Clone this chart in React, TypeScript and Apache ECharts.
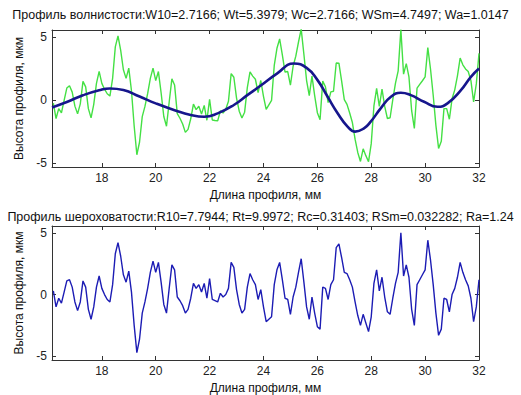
import React, { useEffect, useRef } from "react";
import * as echarts from "echarts";

const TITLE_W = "Профиль волнистости:W10=2.7166; Wt=5.3979; Wc=2.7166; WSm=4.7497; Wa=1.0147";
const TITLE_R = "Профиль шероховатости:R10=7.7944; Rt=9.9972; Rc=0.31403; RSm=0.032282; Ra=1.24";
const X_NAME = "Длина профиля, мм";
const Y_NAME = "Высота профиля, мкм";

const xTicks = [18, 20, 22, 24, 26, 28, 30, 32];
const yTicks = [-5, 0, 5];

// sampled profile: starts at 16.2 mm, step 0.1 mm
const profileStart = 16.2;
const profileStep = 0.1;

const rawProfile = [
  -0.24, -1.46, -0.68, -1.01, -0.03, 0.95, 1.14, 0.63, -0.48, -1.09,
  -0.3, 1.48, 1.05, -0.68, -1.41, -0.34, 1.32, 2.28, 1.32, 0.86,
  0.5, 0.32, 1.72, 4.21, 5.08, 3.94, 2.4, 1.72, 2.53, 0.74,
  -2.05, -4.33, -3.32, -1.31, -0.5, 0.51, 1.72, 2.53, 1.54, 2.26,
  0.58, -1.3, -2.07, -0.15, 1.68, 1.2, -1.07, -1.44, -1.9, -2.56,
  -2.32, -1.48, -0.32, -0.76, -0.49, -1.11, -0.42, -1.6, 0.05, -1.58,
  -1.62, -1.65, -0.85, -1.03, -0.72, -0.1, 2.1, 1.81, 0.16, -0.88,
  -1.42, -0.96, 0.99, 2.24, 1.9, 1.65, 0.6, 1.55, 0.3, -0.74,
  -0.38, -0.02, 2.74, 4.1, 4.84, 3.58, 2.22, 2.26, 1.18, 2.68,
  3.48, 4.6, 5.62, 3.63, 1.55, 0.35, 1.9, 0.35, -1.0, -1.55,
  1.5, 1.05, -0.2, 0.65, 0.7, 2.94, 2.92, 1.52, 0.04, -0.34,
  -1.02, -1.78, -3.1, -4.15, -4.86, -3.86, -4.4, -4.88, -3.45, -0.46,
  0.92, -0.5, 0.86, -0.5, -1.46, -1.4, 0.03, 1.34, 2.32, 5.58,
  2.05, 2.89, 1.83, -0.84, -2.25, 0.94, 1.24, 1.53, 1.84, 4.15,
  2.46, 0.38, -2.0, -3.83, -3.27, -0.68, -0.68, -1.52, 0.1, 0.81,
  1.92, 3.33, 2.79, 2.47, 2.26, 1.54, -0.14, 1.28, 3.7
];

const roughness = [
  0.3, -1.0, -0.3, -0.7, 0.2, 1.1, 1.2, 0.6, -0.6, -1.3,
  -0.6, 1.1, 0.6, -1.2, -2.0, -1.0, 0.6, 1.5, 0.5, 0.0,
  -0.4, -0.6, 0.8, 3.3, 4.2, 3.1, 1.6, 1.0, 1.9, 0.2,
  -2.5, -4.7, -3.6, -1.5, -0.6, 0.5, 1.8, 2.7, 1.8, 2.6,
  1.0, -0.8, -1.5, 0.5, 2.4, 2.0, -0.2, -0.5, -0.9, -1.5,
  -1.2, -0.3, 0.9, 0.5, 0.8, 0.2, 0.9, -0.3, 1.3, -0.4,
  -0.5, -0.6, 0.1, -0.2, 0.0, 0.5, 2.6, 2.2, 0.4, -0.8,
  -1.5, -1.2, 0.6, 1.7, 1.2, 0.8, -0.4, 0.4, -1.0, -2.2,
  -2.0, -1.8, 0.8, 2.0, 2.6, 1.2, -0.3, -0.4, -1.6, -0.2,
  0.6, 1.8, 2.9, 1.0, -1.0, -2.0, -0.2, -1.5, -2.6, -2.8,
  0.6, 0.5, -0.4, 0.8, 1.2, 3.8, 4.1, 3.0, 1.8, 1.7,
  1.2, 0.6, -0.6, -1.7, -2.5, -1.6, -2.3, -3.0, -1.8, 0.9,
  2.0, 0.3, 1.4, -0.2, -1.4, -1.6, -0.3, 0.9, 1.8, 5.0,
  1.5, 2.4, 1.4, -1.2, -2.5, 0.8, 1.2, 1.6, 2.0, 4.4,
  2.8, 0.8, -1.5, -3.3, -2.8, -0.3, -0.4, -1.4, 0.0, 0.5,
  1.4, 2.6, 1.8, 1.2, 0.7, -0.3, -2.2, -1.0, 1.2
];

// waviness (smooth mean line) knots
const wavX = [
  16.15, 16.7, 17.3, 17.9, 18.3, 18.8, 19.4, 20.0, 20.7, 21.3, 21.8, 22.3,
  22.9, 23.4, 23.9, 24.5, 25.13, 25.6, 26.0, 26.37, 26.74, 27.12, 27.4,
  27.73, 27.98, 28.35, 28.73, 29.1, 29.47, 29.96, 30.46, 30.83, 31.33, 31.7, 32.0
];
const wavY = [
  -0.58, -0.15, 0.38, 0.78, 0.92, 0.8, 0.28, -0.26, -0.8, -1.18, -1.32, -1.05,
  -0.39, 0.39, 1.15, 2.1, 2.9, 2.55, 1.6, 0.3, -1.0, -2.1, -2.5,
  -2.24, -1.71, -0.66, 0.26, 0.58, 0.39, -0.13, -0.53, -0.26, 0.79, 1.84, 2.5
];

const X_MIN = 16.15;
const X_MAX = 32;
const Y_MIN = -5.3;
const Y_MAX = 5.55;

const FONT = "'Liberation Sans', Arial, sans-serif";

function profilePairs(vals: number[]) {
  return vals.map((v, i) => [Number((profileStart + i * profileStep).toFixed(2)), v]);
}

export default function App() {
  const ref = useRef<HTMLDivElement>(null);

  useEffect(() => {
    if (!ref.current) return;
    const chart = echarts.init(ref.current, undefined, { renderer: "svg" });

    const boxLine = { show: true, onZero: false, lineStyle: { color: "#333", width: 1 } };
    const tickIn = (vals: number[]) => ({
      show: true,
      inside: true,
      length: 4,
      customValues: vals,
      lineStyle: { color: "#333", width: 1 },
    });

    const xAxes: any[] = [];
    const yAxes: any[] = [];
    [0, 1].forEach((g) => {
      xAxes.push({
        type: "value",
        gridIndex: g,
        position: "bottom",
        min: X_MIN,
        max: X_MAX,
        axisLine: boxLine,
        axisTick: tickIn(xTicks),
        splitLine: { show: false },
        axisLabel: {
          customValues: xTicks,
          color: "#222",
          fontSize: 12,
          fontFamily: FONT,
          margin: 5,
        },
        name: X_NAME,
        nameLocation: "middle",
        nameGap: 22,
        nameTextStyle: { color: "#111", fontSize: 12, fontFamily: FONT },
      });
      xAxes.push({
        type: "value",
        gridIndex: g,
        position: "top",
        min: X_MIN,
        max: X_MAX,
        axisLine: boxLine,
        axisTick: tickIn(xTicks),
        splitLine: { show: false },
        axisLabel: { show: false },
      });
      yAxes.push({
        type: "value",
        gridIndex: g,
        position: "left",
        min: Y_MIN,
        max: Y_MAX,
        axisLine: boxLine,
        axisTick: tickIn(yTicks),
        splitLine: { show: false },
        axisLabel: {
          customValues: yTicks,
          color: "#222",
          fontSize: 12,
          fontFamily: FONT,
          margin: 5,
        },
        name: Y_NAME,
        nameLocation: "middle",
        nameGap: 21,
        nameRotate: 90,
        nameTextStyle: { color: "#111", fontSize: 12, fontFamily: FONT },
      });
      yAxes.push({
        type: "value",
        gridIndex: g,
        position: "right",
        min: Y_MIN,
        max: Y_MAX,
        axisLine: boxLine,
        axisTick: tickIn(yTicks),
        splitLine: { show: false },
        axisLabel: { show: false },
      });
    });

    const option: any = {
      animation: false,
      backgroundColor: "#ffffff",
      title: [
        {
          text: TITLE_W,
          left: "center",
          top: 3,
          textStyle: { fontSize: 12.5, fontWeight: "normal", color: "#111", fontFamily: FONT },
        },
        {
          text: TITLE_R,
          left: "center",
          top: 205,
          textStyle: { fontSize: 12.5, fontWeight: "normal", color: "#111", fontFamily: FONT },
        },
      ],
      grid: [
        { left: 52, top: 30, width: 427, height: 137 },
        { left: 52, top: 226, width: 427, height: 136 },
      ],
      xAxis: xAxes,
      yAxis: yAxes,
      series: [
        {
          type: "line",
          name: "raw",
          xAxisIndex: 0,
          yAxisIndex: 0,
          data: profilePairs(rawProfile),
          showSymbol: false,
          lineStyle: { color: "#44e044", width: 1.4 },
          clip: true,
        },
        {
          type: "line",
          name: "waviness",
          xAxisIndex: 0,
          yAxisIndex: 0,
          data: wavX.map((x, i) => [x, wavY[i]]),
          smooth: 0.5,
          showSymbol: false,
          lineStyle: { color: "#16168c", width: 2.6 },
          clip: true,
        },
        {
          type: "line",
          name: "roughness",
          xAxisIndex: 2,
          yAxisIndex: 2,
          data: profilePairs(roughness),
          showSymbol: false,
          lineStyle: { color: "#1c1cb4", width: 1.4 },
          clip: true,
        },
      ],
    };

    chart.setOption(option);
    return () => chart.dispose();
  }, []);

  return (
    <div
      ref={ref}
      style={{ position: "fixed", left: 0, top: 0, width: 521, height: 395, background: "#fff" }}
    />
  );
}
